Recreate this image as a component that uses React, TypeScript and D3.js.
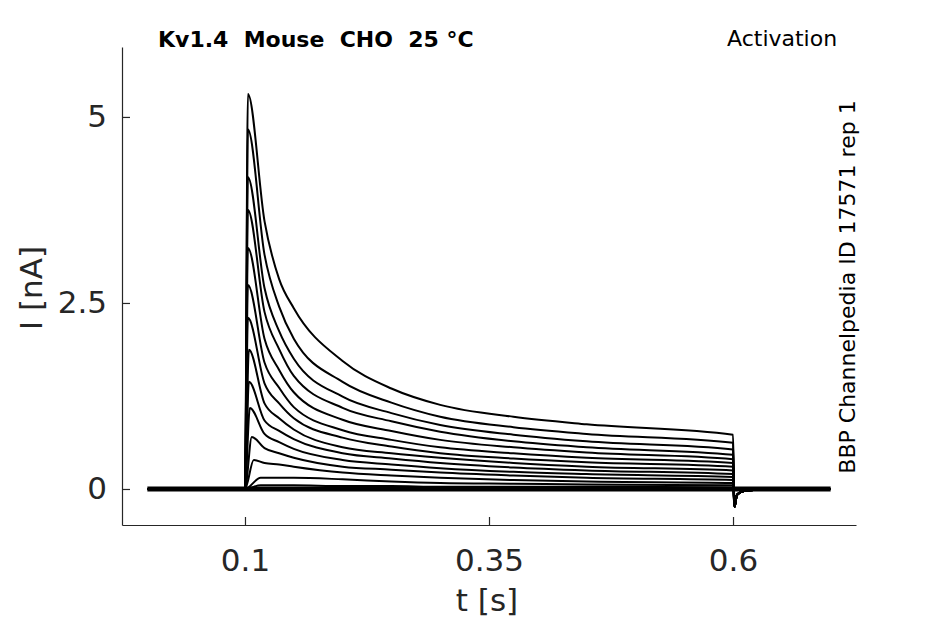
import React, { useRef, useEffect } from 'react';
import * as d3 from 'd3';

// peak of each trace right after the step at t = 0.1 s
const peakTimes = [0.103, 0.103, 0.103, 0.103, 0.103, 0.103, 0.103, 0.104, 0.104, 0.105, 0.107, 0.109, 0.116, 0.116];
const peakValues = [5.31, 4.83, 4.19, 3.75, 3.24, 2.74, 2.30, 1.87, 1.44, 1.09, 0.70, 0.39, 0.15, 0.05];

// decay phase, read at these times (s)
const sampleTimes = [0.12, 0.135, 0.15, 0.2, 0.25, 0.3, 0.375, 0.45, 0.6];
const traceValues = [
    [3.60, 2.82, 2.43, 1.72, 1.35, 1.13, 0.97, 0.87, 0.73],
    [3.15, 2.45, 2.02, 1.44, 1.16, 0.97, 0.83, 0.74, 0.62],
    [2.70, 2.12, 1.75, 1.24, 1.02, 0.86, 0.73, 0.64, 0.53],
    [2.38, 1.88, 1.52, 1.09, 0.91, 0.77, 0.64, 0.56, 0.46],
    [2.02, 1.60, 1.30, 0.93, 0.78, 0.66, 0.56, 0.49, 0.40],
    [1.70, 1.36, 1.10, 0.79, 0.66, 0.56, 0.48, 0.42, 0.35],
    [1.42, 1.15, 0.95, 0.69, 0.57, 0.48, 0.41, 0.36, 0.30],
    [1.15, 0.95, 0.80, 0.56, 0.48, 0.42, 0.35, 0.30, 0.25],
    [0.92, 0.78, 0.67, 0.48, 0.41, 0.35, 0.29, 0.25, 0.20],
    [0.74, 0.63, 0.54, 0.39, 0.33, 0.28, 0.23, 0.20, 0.16],
    [0.55, 0.48, 0.42, 0.30, 0.26, 0.22, 0.18, 0.15, 0.12],
    [0.35, 0.33, 0.30, 0.22, 0.18, 0.15, 0.12, 0.10, 0.08],
    [0.15, 0.15, 0.15, 0.13, 0.10, 0.08, 0.07, 0.06, 0.05],
    [0.05, 0.05, 0.05, 0.04, 0.04, 0.03, 0.03, 0.03, 0.02],
];

// tail current after the step ends
const tailTimes = [0.6015, 0.604, 0.61, 0.625, 0.7];
const tailValues = [-0.24, -0.08, -0.03, -0.01, 0];

// non-activating sweeps sitting on the baseline
const flatLevels = [0.02, 0, -0.02];

const xTicks = [0.1, 0.35, 0.6];
const yTicks = [0, 2.5, 5];

const W = 945;
const H = 624;
const FONT = '"DejaVu Sans", sans-serif';
const AXIS_COLOR = '#262626';

export default function App() {
    const svgRef = useRef<SVGSVGElement | null>(null);

    useEffect(() => {
        if (!svgRef.current) return;
        const svg = d3.select(svgRef.current);
        svg.selectAll('*').remove();

        const x = d3.scaleLinear().domain([-0.026, 0.726]).range([122, 856]);
        const y = d3.scaleLinear().domain([-0.484, 5.94]).range([525, 47]);

        const line = d3.line<[number, number]>()
            .x(d => x(d[0]))
            .y(d => y(d[1]))
            .curve(d3.curveMonotoneX);

        const traces: [number, number][][] = [];
        flatLevels.forEach(v => {
            traces.push([[0, v], [0.7, v]]);
        });
        traceValues.forEach((vals, i) => {
            const pts: [number, number][] = [[0, 0], [0.1, 0], [peakTimes[i], peakValues[i]]];
            sampleTimes.forEach((t, j) => pts.push([t, vals[j]]));
            tailTimes.forEach((t, j) => pts.push([t, tailValues[j]]));
            traces.push(pts);
        });

        svg.append('g')
            .selectAll('path')
            .data(traces)
            .enter().append('path')
            .attr('d', d => line(d))
            .attr('fill', 'none')
            .attr('stroke', '#000')
            .attr('stroke-width', 2)
            .attr('stroke-linejoin', 'round');

        // axes, ticks pointing inward
        const xAxis = svg.append('g')
            .attr('transform', 'translate(0,525)')
            .call(d3.axisBottom(x).tickValues(xTicks).tickSize(-8).tickSizeOuter(0).tickPadding(24).tickFormat(d3.format('')));
        const yAxis = svg.append('g')
            .attr('transform', 'translate(122,0)')
            .call(d3.axisLeft(y).tickValues(yTicks).tickSize(-8).tickSizeOuter(0).tickPadding(15).tickFormat(d3.format('')));

        [xAxis, yAxis].forEach(ax => {
            ax.selectAll('path, line').attr('stroke', AXIS_COLOR).attr('stroke-width', 1.2);
            ax.selectAll('text')
                .attr('fill', AXIS_COLOR)
                .style('font-family', FONT)
                .style('font-size', '31px');
        });

        svg.append('text')
            .attr('x', 487)
            .attr('y', 611)
            .attr('text-anchor', 'middle')
            .attr('fill', AXIS_COLOR)
            .style('font-family', FONT)
            .style('font-size', '31px')
            .text('t [s]');

        svg.append('text')
            .attr('transform', 'translate(42,288) rotate(-90)')
            .attr('text-anchor', 'middle')
            .attr('fill', AXIS_COLOR)
            .style('font-family', FONT)
            .style('font-size', '31px')
            .text('I [nA]');

        svg.append('text')
            .attr('x', 158)
            .attr('y', 47)
            .attr('fill', '#000')
            .style('font-family', FONT)
            .style('font-size', '22px')
            .style('font-weight', 'bold')
            .style('white-space', 'pre')
            .text('Kv1.4  Mouse  CHO  25 °C');

        svg.append('text')
            .attr('x', 727)
            .attr('y', 46)
            .attr('fill', '#000')
            .style('font-family', FONT)
            .style('font-size', '22px')
            .text('Activation');

        svg.append('text')
            .attr('transform', 'translate(855,287) rotate(-90)')
            .attr('text-anchor', 'middle')
            .attr('fill', '#000')
            .style('font-family', FONT)
            .style('font-size', '22px')
            .text('BBP Channelpedia ID 17571 rep 1');
    }, []);

    return (
        <svg
            ref={svgRef}
            width={W}
            height={H}
            style={{ position: 'absolute', left: 0, top: 0, background: '#fff' }}
        />
    );
}
